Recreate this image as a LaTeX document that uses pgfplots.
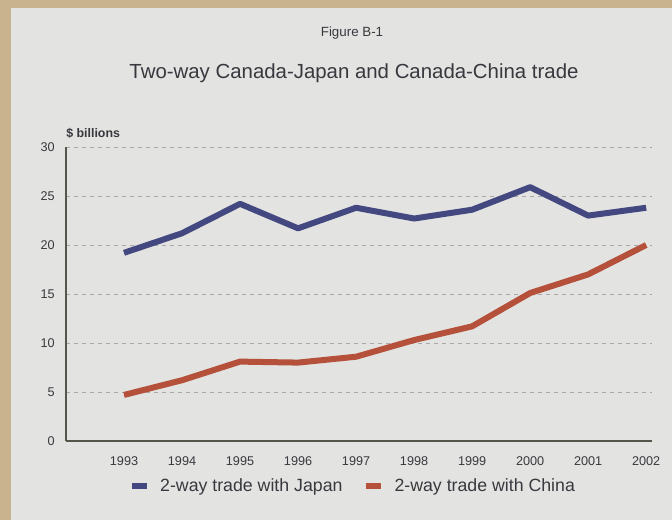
\documentclass[border=0pt]{standalone}
\usepackage{pgfplots}
\pgfplotsset{compat=1.18}
\usepackage{fontspec}
\setmainfont{Liberation Sans}
\definecolor{tanbg}{HTML}{C8B38E}
\definecolor{panel}{HTML}{E3E3E1}
\definecolor{japan}{HTML}{444880}
\definecolor{china}{HTML}{B5503A}
\definecolor{txt}{HTML}{38383F}
\definecolor{gridc}{HTML}{A8A8A8}
\definecolor{axc}{HTML}{55554C}
\begin{document}
\begin{tikzpicture}[x=0.75pt,y=0.75pt]
\fill[tanbg] (0,0) rectangle (672,520);
\fill[panel] (11,0) rectangle (672,512);
\node[txt,font=\fontsize{10}{11}\selectfont] at (352,487) {Figure B-1};
\node[txt,font=\fontsize{15.3}{17}\selectfont] at (354,447) {Two-way Canada-Japan and Canada-China trade};
\node[txt,anchor=west,inner sep=0pt,font=\bfseries\fontsize{9.3}{10}\selectfont] at (66,387) {\$ billions};
\begin{axis}[
  at={(49.5pt,59.25pt)}, anchor=south west,
  scale only axis, width=439.5pt, height=220.5pt,
  xmin=1992, xmax=2002.1, ymin=0, ymax=30,
  xtick={1993,...,2002}, ytick={0,5,...,30},
  xticklabel style={/pgf/number format/1000 sep={}},
  /pgf/number format/assume math mode=true,
  tick label style={font=\fontsize{9.5}{11}\selectfont, text=txt},
  major tick length=0pt,
  xticklabel shift=8pt, yticklabel shift=5pt,
  axis x line*=bottom, axis y line*=left,
  axis line style={axc, line width=1.1pt, -},
  ymajorgrids, grid style={gridc, dashed, line width=0.5pt},
  legend columns=2,
  legend style={at={(0.493,-0.153)}, anchor=center, draw=none, fill=none,
    font=\fontsize{13.3}{15}\selectfont, text=txt,
    /tikz/every even column/.append style={column sep=16pt},
    /tikz/every odd column/.append style={column sep=8.5pt}},
  legend image code/.code={\fill[#1, line width=0pt] (0pt,-1.9pt) rectangle (10.5pt,1.9pt);},
]
\addplot[japan, line width=4.5pt, line join=round] coordinates {
(1993,19.2) (1994,21.2) (1995,24.2) (1996,21.7) (1997,23.8) (1998,22.7) (1999,23.6) (2000,25.9) (2001,23.0) (2002,23.8)};
\addlegendentry{2-way trade with Japan}
\addplot[china, line width=4.5pt, line join=round] coordinates {
(1993,4.7) (1994,6.2) (1995,8.1) (1996,8.0) (1997,8.6) (1998,10.3) (1999,11.7) (2000,15.1) (2001,17.0) (2002,20.0)};
\addlegendentry{2-way trade with China}
\end{axis}
\end{tikzpicture}
\end{document}
